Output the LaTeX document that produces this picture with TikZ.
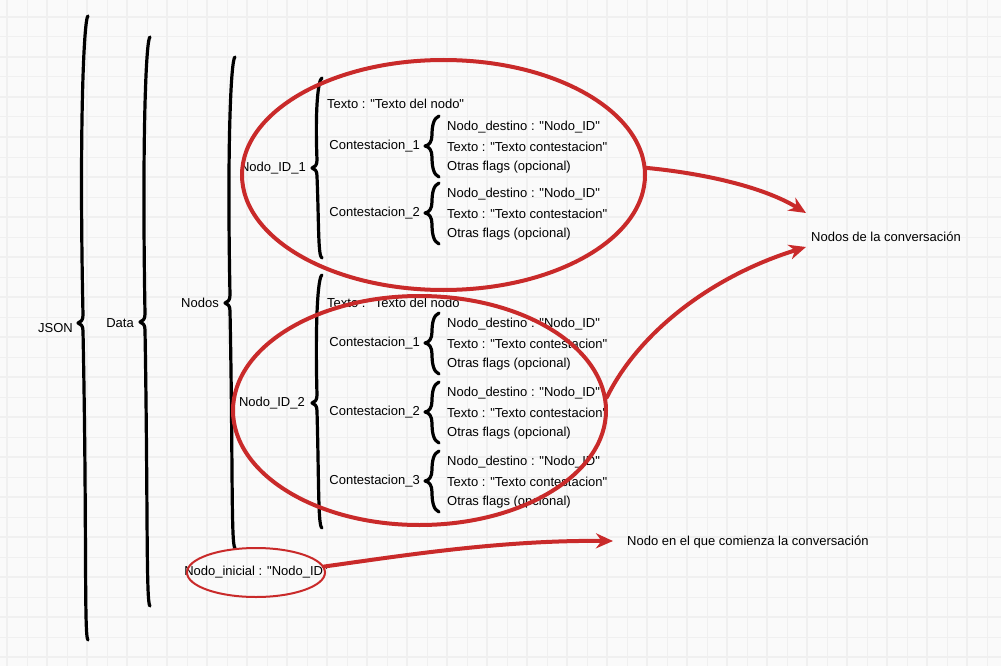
\documentclass[tikz,border=0pt]{standalone}
\usepackage{fontspec}
\setmainfont{Liberation Sans}[Ligatures=TeXOff]
\usetikzlibrary{calc, arrows.meta, shapes.geometric}

\definecolor{redpen}{HTML}{C92A2A}
\definecolor{paper}{HTML}{FAFAFA}
\definecolor{gridline}{HTML}{F0F0F0}

% hand drawn brace: spine x, top y, tip y, bottom y, depth, wobble
\newcommand{\curly}[6]{%
  \draw[curl] ({(#1)+(#5)},{#2})
    .. controls ({(#1)+0.2*(#5)},{(#2)+0.3*(#5)}) and ({(#1)-(#6)},{(#2)+0.35*((#3)-(#2))}) .. ({#1},{(#3)-1.6*(#5)})
    .. controls ({#1},{(#3)-0.6*(#5)}) and ({(#1)-0.4*(#5)},{(#3)-0.1*(#5)}) .. ({(#1)-(#5)},{#3})
    .. controls ({(#1)-0.4*(#5)},{(#3)+0.1*(#5)}) and ({#1},{(#3)+0.6*(#5)}) .. ({#1},{(#3)+1.6*(#5)})
    .. controls ({(#1)+(#6)},{(#4)-0.35*((#4)-(#3))}) and ({(#1)+0.2*(#5)},{(#4)-0.3*(#5)}) .. ({(#1)+(#5)},{#4});
}

\begin{document}
\begin{tikzpicture}[x=1pt, y=-1pt, >={Stealth[length=17pt,width=15pt]}]
  \tikzstyle{txt} = [font=\fontsize{13}{15}\selectfont, inner sep=1pt]
  \tikzstyle{curl} = [draw=black, line width=3.2pt, line cap=round, line join=round]
  \tikzstyle{oval} = [draw=redpen, line width=4pt, ellipse, inner sep=0pt]
  \tikzstyle{link} = [draw=redpen, line width=4pt, line cap=round]

  % paper
  \useasboundingbox[fill=paper] (0,0) rectangle (1001,666);
  \foreach \gx in {27,67,...,1000} \draw[gridline, line width=1pt] (\gx,0) -- (\gx,666);
  \foreach \gx in {7,47,...,1000} \draw[gridline, line width=2pt] (\gx,0) -- (\gx,666);
  \foreach \gy in {37,77,...,666} \draw[gridline, line width=1pt] (0,\gy) -- (1001,\gy);
  \foreach \gy in {17,57,...,666} \draw[gridline, line width=2pt] (0,\gy) -- (1001,\gy);

  % big braces
  \curly{83}{16}{323}{640}{5}{4}
  \curly{145}{37}{322}{606}{5}{3}
  \curly{230}{57}{303}{548}{5}{3}
  \curly{317}{78}{168}{258}{5}{2}
  \curly{317}{275}{403}{528}{5}{2}

  \node[txt, anchor=east] (json)  at (74,328)  {JSON};
  \node[txt, anchor=east] (data)  at (135,323) {Data};
  \node[txt, anchor=east] (nodos) at (220,303) {Nodos};
  \node[txt, anchor=east] (id1)   at (307,168) {Nodo\_ID\_1};
  \node[txt, anchor=east] (id2)   at (306,403) {Nodo\_ID\_2};

  \node[txt, anchor=west] (tx1) at (326,104) {Texto : "Texto del nodo"};
  \node[txt, anchor=west] (tx2) at (326,303) {Texto : "Texto del nodo"};

  % answers
  \foreach \nm/\lab/\ly in {a1/Contestacion\_1/146, a2/Contestacion\_2/213, b1/Contestacion\_1/343, b2/Contestacion\_2/412, b3/Contestacion\_3/481} {
    \curly{432}{\ly-30}{\ly}{\ly+31}{7}{0}
    \node[txt, anchor=east] (\nm) at (421,\ly) {\lab};
    \node[txt, anchor=west] (\nm-dst) at (446,\ly-19) {Nodo\_destino : "Nodo\_ID"};
    \node[txt, anchor=west] (\nm-txt) at (446,\ly+1) {Texto : "Texto contestacion"};
    \node[txt, anchor=west] (\nm-flg) at (446,\ly+21) {Otras flags (opcional)};
  }

  \node[txt] (initxt) at (256,572) {Nodo\_inicial : "Nodo\_ID"};

  % red marks
  \node[oval, minimum width=403pt, minimum height=230pt] (n1) at (443.5,175) {};
  \node[oval, minimum width=373pt, minimum height=229pt] (n2) at (419.5,410.5) {};
  \node[oval, line width=2pt, minimum width=138pt, minimum height=49pt] (ini) at (256,572.5) {};

  \node[txt, anchor=west] (conv)  at (810,237) {Nodos de la conversación};
  \node[txt, anchor=west] (start) at (626,542) {Nodo en el que comienza la conversación};

  \draw[link, ->] (n1.2) .. controls (700,173) and (762,186) .. ($(conv.west)+(-4,-24)$);
  \draw[link, ->] (n2.4) .. controls (640,330) and (715,275) .. ($(conv.west)+(-4,10)$);
  \draw[link, ->] (ini.5) .. controls (400,556) and (500,540) .. ($(start.west)+(-13,-1)$);
\end{tikzpicture}
\end{document}
